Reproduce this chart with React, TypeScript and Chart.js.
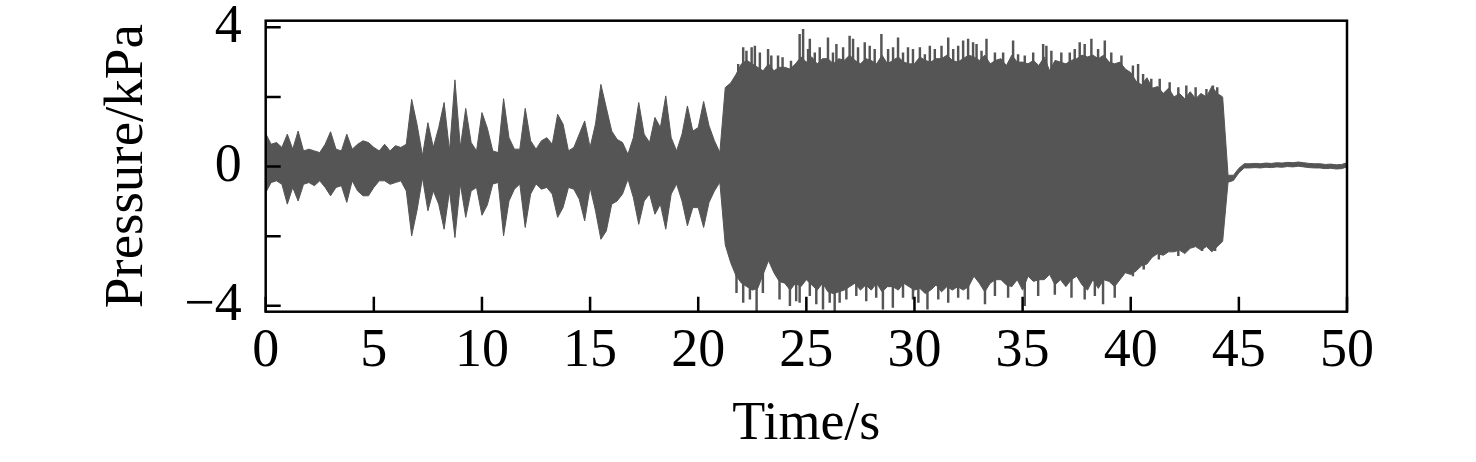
import React, { useEffect, useRef } from 'react';
import { Chart, registerables } from 'chart.js';

Chart.register(...registerables);

// Sampling step of the envelope (seconds)
const DT = 0.25;

// Upper envelope of the pressure signal (kPa), one row per second (t = s, s+0.25, s+0.5, s+0.75)
const HI = [
  0.95, 0.64, 0.69, 0.55,
  0.93, 0.50, 1.02, 0.45,
  0.50, 0.45, 0.40, 0.64,
  1.00, 0.50, 0.45, 0.93,
  0.50, 0.64, 0.74, 0.69,
  0.55, 0.45, 0.64, 0.45,
  0.60, 0.55, 0.64, 1.93,
  1.20, 0.31, 1.26, 0.55,
  1.12, 1.84, 0.45, 2.49,
  0.55, 1.67, 0.69, 0.45,
  1.55, 1.10, 0.45, 0.40,
  1.95, 0.83, 0.50, 0.50,
  1.67, 0.74, 0.50, 0.74,
  0.83, 0.64, 1.50, 1.22,
  0.45, 0.55, 0.93, 1.31,
  0.55, 1.22, 2.36, 1.69,
  1.02, 0.78, 0.69, 0.35,
  0.83, 1.84, 0.93, 0.69,
  1.41, 1.12, 2.03, 0.83,
  0.45, 0.93, 1.74, 1.02,
  1.12, 1.87, 1.17, 0.74,
  0.40, 2.27, 2.40, 2.65,
  2.95, 3.05, 2.95, 2.85,
  2.75, 2.95, 2.75, 2.85,
  2.85, 2.80, 2.95, 3.15,
  3.00, 3.15, 2.95, 3.10,
  3.10, 2.95, 3.10, 3.05,
  3.20, 3.05, 2.95, 3.10,
  3.05, 2.95, 3.20, 2.95,
  3.05, 3.15, 3.00, 2.95,
  2.95, 3.15, 3.05, 3.00,
  3.10, 3.10, 3.20, 3.05,
  3.00, 3.10, 3.20, 3.15,
  3.05, 3.20, 2.95, 3.05,
  3.10, 2.90, 3.20, 3.00,
  3.00, 2.95, 3.05, 2.90,
  3.15, 2.75, 3.05, 3.00,
  2.95, 3.05, 3.10, 3.20,
  3.15, 3.20, 3.10, 3.20,
  3.00, 2.95, 3.00, 2.80,
  2.70, 2.45, 2.35, 2.55,
  2.25, 2.30, 2.10, 2.25,
  2.00, 2.10, 1.95, 2.15,
  1.95, 2.10, 2.00, 2.30,
  2.10, 2.00, -0.25, -0.25,
  -0.05, 0.08, 0.08, 0.09,
  0.08, 0.10, 0.09, 0.11,
  0.10, 0.12, 0.11, 0.13,
  0.11, 0.09, 0.08, 0.08,
  0.06, 0.07, 0.05, 0.06,
  0.11,
];

// Lower envelope of the pressure signal (kPa)
const LO = [
  -0.75, -0.46, -0.41, -0.51,
  -1.08, -0.60, -0.99, -0.51,
  -0.46, -0.55, -0.41, -0.60,
  -0.84, -0.60, -0.55, -1.03,
  -0.41, -0.70, -0.84, -0.84,
  -0.60, -0.41, -0.41, -0.51,
  -0.46, -0.41, -0.70, -1.99,
  -1.25, -0.32, -1.27, -0.70,
  -1.08, -1.80, -0.70, -2.04,
  -0.50, -1.46, -0.70, -0.60,
  -1.40, -1.10, -0.50, -0.46,
  -1.99, -0.99, -0.65, -0.50,
  -1.75, -0.79, -0.50, -0.65,
  -0.60, -0.79, -1.46, -1.18,
  -0.60, -0.65, -0.94, -1.56,
  -0.60, -1.27, -2.09, -1.85,
  -1.08, -0.99, -0.79, -0.36,
  -0.89, -1.66, -0.99, -0.79,
  -1.37, -1.08, -1.80, -0.79,
  -0.50, -0.99, -1.70, -1.18,
  -1.18, -1.75, -1.03, -0.70,
  -0.45, -2.25, -2.76, -3.14,
  -3.35, -3.45, -3.55, -3.50,
  -3.10, -2.70, -3.05, -3.30,
  -3.35, -3.55, -3.35, -3.45,
  -3.25, -3.40, -3.55, -3.35,
  -3.60, -3.65, -3.60, -3.55,
  -3.45, -3.35, -3.55, -3.40,
  -3.55, -3.35, -3.60, -3.45,
  -3.45, -3.55, -3.35, -3.45,
  -3.55, -3.50, -3.65, -3.55,
  -3.40, -3.60, -3.45, -3.55,
  -3.45, -3.55, -3.45, -3.15,
  -3.35, -3.60, -3.35, -3.25,
  -3.25, -3.40, -3.45, -3.25,
  -3.55, -3.15, -3.30, -3.25,
  -3.25, -3.10, -3.40, -3.25,
  -3.45, -3.25, -3.15, -3.40,
  -3.55, -3.25, -3.50, -3.25,
  -3.30, -3.45, -3.25, -3.05,
  -3.10, -3.00, -2.85, -2.80,
  -2.60, -2.50, -2.55, -2.45,
  -2.45, -2.40, -2.50, -2.35,
  -2.30, -2.40, -2.30, -2.45,
  -2.30, -2.15, -0.45, -0.40,
  -0.18, -0.04, -0.04, -0.03,
  -0.04, -0.02, -0.03, -0.01,
  -0.02, 0.00, -0.01, 0.01,
  -0.01, -0.03, -0.04, -0.04,
  -0.06, -0.05, -0.07, -0.06,
  -0.01,
];

// Upward spikes (hairs) above the envelope in the strong-oscillation phase
const SPIKE_UP_T = [
  22.08, 22.47, 22.62, 23.23, 23.69, 24.69, 24.85, 25.16, 26.0, 26.39,
  27.0, 27.16, 27.7, 28.47, 29.24, 29.93, 30.25, 30.71, 31.56, 32.02,
  32.48, 32.87, 33.33, 34.56, 35.95, 36.1, 37.64, 38.18, 38.8, 39.57,
  40.34, 41.34, 42.57, 43.8,
  21.85, 22.23, 22.85, 23.38, 23.9, 24.29, 25.08, 25.39, 25.62, 26.23,
  26.7, 27.39, 27.93, 28.16, 28.78, 29.01, 29.47, 29.7, 30.48, 30.94,
  31.25, 31.79, 32.25, 32.71, 33.1, 33.72, 34.1, 34.79, 35.1, 35.49,
  36.33, 36.79, 37.18, 37.41, 37.87, 38.49, 39.1,
  40.1, 40.57, 40.95, 41.8, 42.2, 43.0, 43.5, 44.0,
];
const SPIKE_UP_V = [
  3.42, 3.42, 3.46, 3.37, 3.18, 3.80, 3.94, 3.66, 3.70, 3.51,
  3.75, 3.66, 3.56, 3.80, 3.70, 3.37, 3.42, 3.46, 3.70, 3.46,
  3.66, 3.51, 3.66, 3.61, 3.51, 3.46, 3.56, 3.66, 3.61, 3.18,
  2.94, 2.51, 2.32, 2.32,
  2.94, 3.32, 3.27, 3.18, 3.13, 3.03, 3.37, 3.27, 3.42, 3.27,
  3.42, 3.42, 3.46, 3.37, 3.37, 3.42, 3.27, 3.42, 3.22, 3.37,
  3.46, 3.37, 3.61, 3.56, 3.32, 3.27, 3.27, 3.22, 3.18, 3.27,
  3.32, 3.27, 3.27, 3.37, 3.51, 3.37, 3.27,
  2.89, 2.65, 2.51, 2.41, 2.27, 2.27, 2.22, 2.27,
];

// Downward spikes below the envelope
const SPIKE_DN_T = [
  22.08, 22.7, 24.24, 24.69, 25.77, 26.31, 26.54, 28.54, 29.0, 29.93,
  30.6, 31.56, 33.26, 35.1, 37.87, 38.72,
  21.77, 22.39, 22.99, 23.76, 24.53, 25.16, 25.46, 26.08, 26.85, 27.31,
  27.77, 28.23, 29.47, 30.18, 31.1, 32.02, 32.48, 33.72, 34.33, 35.72,
  36.49, 37.26, 38.34, 39.26,
  40.1, 40.6, 41.3, 42.2, 43.3, 43.9,
];
const SPIKE_DN_V = [
  -3.9, -4.14, -4.0, -3.9, -4.1, -4.14, -3.9, -4.1, -4.05, -3.81,
  -4.1, -3.9, -3.95, -4.0, -3.81, -3.95,
  -3.62, -3.81, -3.62, -3.81, -3.86, -3.71, -3.95, -3.9, -3.81, -3.71,
  -3.86, -3.76, -3.76, -3.9, -3.81, -3.76, -3.81, -3.71, -3.76, -3.71,
  -3.67, -3.76, -3.71, -3.76,
  -3.14, -2.95, -2.66, -2.56, -2.42, -2.42,
];

const X_TICKS = [0, 5, 10, 15, 20, 25, 30, 35, 40, 45, 50];
const Y_TICKS = [-4, -2, 0, 2, 4];
const Y_LABELS: Record<string, string> = { '-4': '\u22124', '0': '0', '4': '4' };

const X_TITLE = 'Time/s';
const Y_TITLE = 'Pressure/kPa';

const FONT = '"Liberation Serif", "Times New Roman", Times, serif';
const SIGNAL = '#555555';

export default function App() {
  const ref = useRef<HTMLCanvasElement | null>(null);

  useEffect(() => {
    if (!ref.current) return;
    const time = HI.map((_, i) => i * DT);

    const frame = {
      id: 'frame',
      afterDraw(chart: any) {
        const { ctx, chartArea } = chart;
        const { left, right, top, bottom } = chartArea;
        const xs = chart.scales.x;
        const ys = chart.scales.y;
        ctx.save();
        ctx.strokeStyle = '#000';
        ctx.lineWidth = 2.5;
        ctx.lineCap = 'butt';
        ctx.beginPath();
        X_TICKS.forEach((v) => {
          const px = xs.getPixelForValue(v);
          ctx.moveTo(px, bottom);
          ctx.lineTo(px, bottom - 15);
        });
        Y_TICKS.forEach((v) => {
          const py = ys.getPixelForValue(v);
          ctx.moveTo(left, py);
          ctx.lineTo(left + 15, py);
        });
        ctx.stroke();
        ctx.strokeRect(left, top, right - left, bottom - top);
        ctx.restore();
      },
    };

    const chart = new Chart(ref.current, {
      type: 'line',
      data: {
        datasets: [
          {
            type: 'line',
            data: time.map((t, i) => ({ x: t, y: HI[i] })),
            borderColor: SIGNAL,
            backgroundColor: SIGNAL,
            borderWidth: 1,
            pointRadius: 0,
            tension: 0,
            fill: '+1',
          },
          {
            type: 'line',
            data: time.map((t, i) => ({ x: t, y: LO[i] })),
            borderColor: SIGNAL,
            backgroundColor: SIGNAL,
            borderWidth: 1,
            pointRadius: 0,
            tension: 0,
            fill: false,
          },
          {
            type: 'bar',
            data: SPIKE_UP_T.map((t, i) => ({ x: t, y: [0, SPIKE_UP_V[i]] })),
            backgroundColor: SIGNAL,
            borderWidth: 0,
            barThickness: 1.8,
            grouped: false,
          },
          {
            type: 'bar',
            data: SPIKE_DN_T.map((t, i) => ({ x: t, y: [SPIKE_DN_V[i], 0] })),
            backgroundColor: SIGNAL,
            borderWidth: 0,
            barThickness: 1.8,
            grouped: false,
          },
        ],
      },
      options: {
        responsive: false,
        animation: false,
        events: [],
        layout: { padding: { left: 0, right: 129, top: 20.7, bottom: 0 } },
        plugins: { legend: { display: false }, tooltip: { enabled: false } },
        scales: {
          x: {
            type: 'linear',
            min: 0,
            max: 50,
            offset: false,
            afterBuildTicks: (s: any) => {
              s.ticks = X_TICKS.map((v) => ({ value: v }));
            },
            afterFit: (s: any) => {
              s.height = 150.3;
              s.paddingLeft = 0;
              s.paddingRight = 0;
            },
            grid: { display: false, drawTicks: false, offset: false },
            border: { display: false },
            ticks: {
              padding: 13,
              color: '#000',
              maxRotation: 0,
              minRotation: 0,
              autoSkip: false,
              font: { family: FONT, size: 54, lineHeight: 1 },
            },
            title: {
              display: true,
              text: X_TITLE,
              color: '#000',
              font: { family: FONT, size: 54, lineHeight: 1 },
              padding: { top: 0, bottom: 10 },
            },
          },
          y: {
            type: 'linear',
            min: -4.17,
            max: 4.19,
            beginAtZero: false,
            afterBuildTicks: (s: any) => {
              s.ticks = Y_TICKS.map((v) => ({ value: v }));
            },
            afterFit: (s: any) => {
              s.width = 265.7;
              s.paddingTop = 0;
              s.paddingBottom = 0;
            },
            grid: { display: false, drawTicks: false },
            border: { display: false },
            ticks: {
              padding: 24,
              color: '#000',
              autoSkip: false,
              font: { family: FONT, size: 54, lineHeight: 1 },
              callback: (v: any) => Y_LABELS[String(v)] ?? '',
            },
            title: {
              display: true,
              text: Y_TITLE,
              color: '#000',
              font: { family: FONT, size: 55, lineHeight: 1 },
              padding: { top: 100.5, bottom: 0 },
            },
          },
        },
      },
      plugins: [frame],
    } as any);

    return () => chart.destroy();
  }, []);

  return (
    <div style={{ position: 'fixed', left: 0, top: 0, width: 1476, height: 462, background: '#fff' }}>
      <canvas ref={ref} width={1476} height={462} style={{ display: 'block', width: 1476, height: 462 }} />
    </div>
  );
}
